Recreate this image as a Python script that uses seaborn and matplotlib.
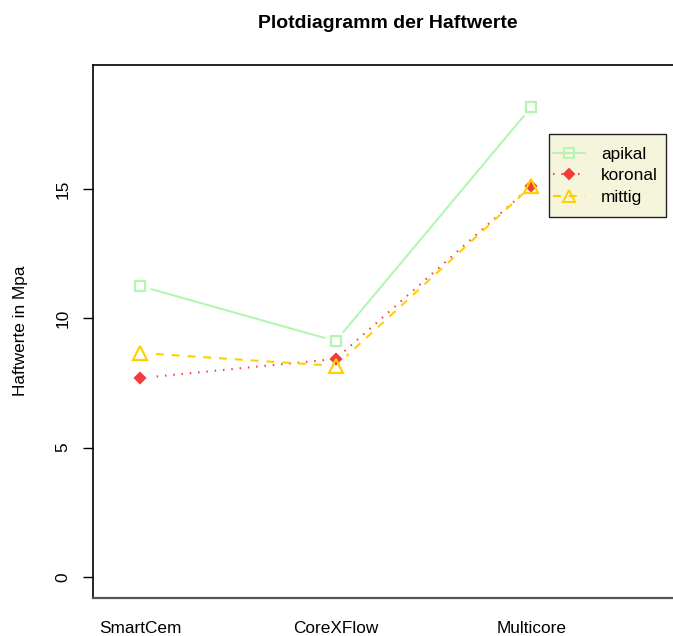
import numpy as np
import pandas as pd
import matplotlib
matplotlib.use("Agg")
import matplotlib.pyplot as plt
import seaborn as sns
from matplotlib.lines import Line2D
from matplotlib.patches import Rectangle

# ---- data ----
zemente = ["SmartCem", "CoreXFlow", "Multicore"]
apikal = [11.25, 9.12, 18.17]
koronal = [7.69, 8.43, 15.11]
mittig = [8.66, 8.16, 15.11]
lagen = ["apikal", "koronal", "mittig"]
yticks = [0, 5, 10, 15]

title = "Plotdiagramm der Haftwerte"
ylabel = "Haftwerte in Mpa"

df = pd.DataFrame({
    "Zement": zemente * 3,
    "Haftwert": apikal + koronal + mittig,
    "Lage": [l for l in lagen for _ in zemente],
})

sns.set_theme(style="white")
plt.rcParams["font.family"] = ["Liberation Sans", "DejaVu Sans"]
plt.rcParams["text.color"] = "black"
plt.rcParams["axes.labelcolor"] = "black"
plt.rcParams["xtick.color"] = "black"
plt.rcParams["ytick.color"] = "black"

colors = {"apikal": "#B4F5B4", "koronal": "#F43A3A", "mittig": "#FFD000"}
dash_map = {"apikal": "", "koronal": (0.7, 3.3), "mittig": (3.8, 3.8)}
marker_map = {"apikal": "s", "koronal": "D", "mittig": "^"}
msize = {"apikal": 6.5, "koronal": 4.6, "mittig": 9.5}
mfill = {"apikal": "none", "koronal": colors["koronal"], "mittig": "none"}

W, H = 673, 636
fig = plt.figure(figsize=(W / 100, H / 100), dpi=100)
left, right, top, bottom = 92.5, 684, 65, 597.5
ax = fig.add_axes([left / W, 1 - bottom / H, (right - left) / W, (bottom - top) / H])

# lines
sns.lineplot(data=df, x="Zement", y="Haftwert", hue="Lage", style="Lage",
             palette=colors, dashes=dash_map, markers=False, lw=1.5,
             legend=False, ax=ax, sort=False)
for ln in ax.lines:
    ln.set_zorder(2)

# white gaps around points (type="b")
sns.scatterplot(data=df, x="Zement", y="Haftwert", color="white", s=250,
                marker="o", edgecolor="none", linewidth=0, legend=False, ax=ax)
for coll in ax.collections:
    coll.set_zorder(3)
    coll.set_facecolor("white")

# markers
for lage in lagen:
    sub = df[df["Lage"] == lage]
    sns.lineplot(data=sub, x="Zement", y="Haftwert", color=colors[lage],
                 marker=marker_map[lage], markersize=msize[lage],
                 markerfacecolor=mfill[lage], markeredgecolor=colors[lage],
                 markeredgewidth=1.6, linestyle="", legend=False, ax=ax,
                 sort=False, zorder=4)

ax.set_xlim(-0.243, 2.78)
ax.set_ylim(-0.79, 19.79)
ax.set_yticks(yticks)
ax.set_yticklabels([str(t) for t in yticks], rotation=90, va="center", fontsize=12.4)
ax.tick_params(axis="y", length=7, width=1, color="black", pad=9, left=True)
ax.tick_params(axis="x", length=0, pad=17, labelsize=12.4)
ax.set_xlabel("")
ax.set_ylabel(ylabel, fontsize=12.4)
ax.yaxis.set_label_coords((28 - left) / (right - left), 0.5)

for s in ["left", "top"]:
    ax.spines[s].set_color("black")
    ax.spines[s].set_linewidth(1.2)
ax.spines["bottom"].set_color("#555555")
ax.spines["bottom"].set_linewidth(1.6)
ax.spines["right"].set_visible(False)

fig.text(388 / W, 1 - 24 / H, title, ha="center", va="center",
         fontsize=14, fontweight="bold")

# legend box (R style) + entries
box = Rectangle((549 / W, 1 - 217 / H), (666 - 549) / W, (217 - 134) / H,
                transform=fig.transFigure, facecolor="#F5F5DC",
                edgecolor="#222222", linewidth=1.0, zorder=5, clip_on=False)
ax.add_artist(box)

handles = [Line2D([], [], color=colors[l], lw=1.5,
                  linestyle="-" if l == "apikal" else (0, dash_map[l]),
                  marker=marker_map[l], markersize=msize[l] * (0.85 if l == "mittig" else 1),
                  markerfacecolor=mfill[l], markeredgecolor=colors[l], markeredgewidth=1.4)
           for l in lagen]
leg = ax.legend(handles, lagen, loc="upper left",
                bbox_to_anchor=(553 / W, 1 - 146.5 / H), bbox_transform=fig.transFigure,
                borderaxespad=0, borderpad=0, fontsize=12.4, frameon=False,
                handlelength=1.86, handletextpad=0.93, labelspacing=0.40)
leg.set_zorder(6)

fig.savefig("out.png", dpi=100)
